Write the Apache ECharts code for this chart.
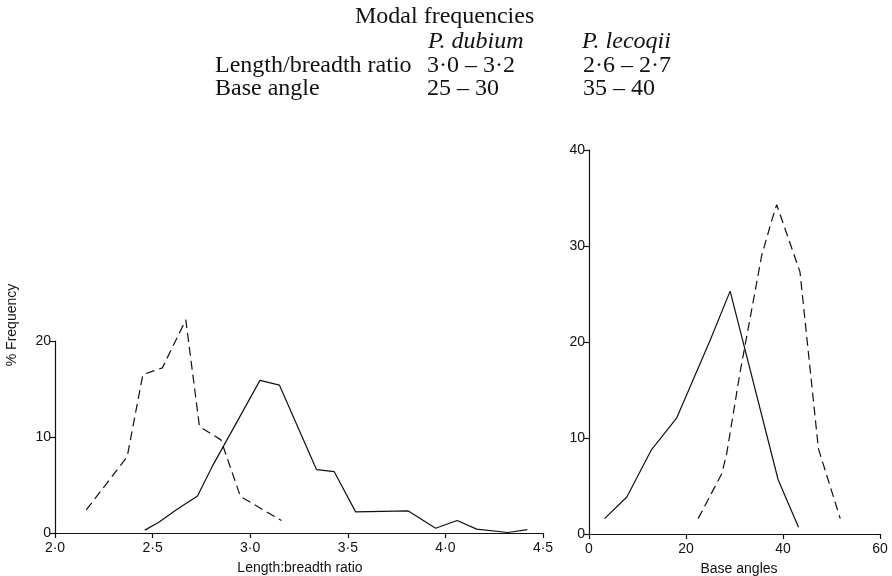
<!DOCTYPE html>
<html>
<head>
<meta charset="utf-8">
<script src="https://cdn.jsdelivr.net/npm/echarts@6/dist/echarts.min.js"></script>
<style>
  html, body { margin: 0; padding: 0; background: #fff; }
  #chart { width: 892px; height: 576px; }
</style>
</head>
<body>
<div id="chart"></div>
<script>
// length/breadth ratio — % frequency
const ratioDubium = [2.46, 2.53, 2.62, 2.73, 2.81, 3.05, 3.15, 3.34, 3.43, 3.54, 3.81, 3.95, 4.06, 4.16, 4.32, 4.42];
const freqRatioDubium = [0.3, 1.1, 2.4, 3.85, 7.1, 15.9, 15.4, 6.6, 6.4, 2.2, 2.3, 0.5, 1.3, 0.4, 0.05, 0.35];
const ratioLecoqii = [2.16, 2.37, 2.45, 2.55, 2.67, 2.74, 2.85, 2.95, 3.16];
const freqRatioLecoqii = [2.4, 7.95, 16.5, 17.2, 22.2, 11.1, 9.7, 3.8, 1.3];

// base angles — % frequency
const angleDubium = [3.2, 7.8, 12.9, 18.1, 25, 29.1, 39.0, 43.2];
const freqAngleDubium = [1.6, 3.85, 8.8, 12.1, 20.2, 25.3, 5.65, 0.7];
const angleLecoqii = [22.5, 27.4, 28.4, 31.1, 35.6, 37.7, 38.7, 43.5, 47.3, 51.8];
const freqAngleLecoqii = [1.6, 6.3, 8.4, 16.7, 29.0, 32.7, 34.3, 27.3, 8.9, 1.6];

const pairs = (xs, ys) => xs.map((x, i) => [x, ys[i]]);
const dotted = v => v.toFixed(1).replace('.', '·');

const ink = '#111';
const sans = 'Liberation Sans, Arial, sans-serif';
const serif = 'Liberation Serif, Times New Roman, serif';
const axisFont = { color: ink, fontFamily: sans, fontSize: 14 };

const baseAxis = {
  axisLine: { show: true, onZero: false, lineStyle: { color: ink, width: 1.2 } },
  axisTick: { show: true, length: 5, lineStyle: { color: ink, width: 1.2 } },
  splitLine: { show: false },
  axisLabel: Object.assign({ margin: 8 }, axisFont)
};

const myChart = echarts.init(document.getElementById('chart'), null, { renderer: 'canvas' });

const option = {
  backgroundColor: '#fff',
  animation: false,
  grid: [
    { left: 55, right: 349, top: 341, bottom: 43 },
    { left: 589, right: 12, top: 150, bottom: 42 }
  ],
  xAxis: [
    Object.assign({}, baseAxis, {
      gridIndex: 0, type: 'value', min: 2.0, max: 4.5, interval: 0.5,
      axisLabel: Object.assign({}, baseAxis.axisLabel, { formatter: dotted })
    }),
    Object.assign({}, baseAxis, {
      gridIndex: 1, type: 'value', min: 0, max: 60, interval: 20
    })
  ],
  yAxis: [
    Object.assign({}, baseAxis, {
      gridIndex: 0, type: 'value', min: 0, max: 20, interval: 10,
      axisLabel: Object.assign({}, baseAxis.axisLabel, { margin: 4 })
    }),
    Object.assign({}, baseAxis, {
      gridIndex: 1, type: 'value', min: 0, max: 40, interval: 10,
      axisLabel: Object.assign({}, baseAxis.axisLabel, { margin: 4 })
    })
  ],
  series: [
    {
      name: 'P. dubium', type: 'line', xAxisIndex: 0, yAxisIndex: 0,
      data: pairs(ratioDubium, freqRatioDubium), showSymbol: false, clip: false,
      lineStyle: { color: ink, width: 1.2 }
    },
    {
      name: 'P. lecoqii', type: 'line', xAxisIndex: 0, yAxisIndex: 0,
      data: pairs(ratioLecoqii, freqRatioLecoqii), showSymbol: false, clip: false,
      lineStyle: { color: ink, width: 1.2, type: [9, 5] }
    },
    {
      name: 'P. dubium', type: 'line', xAxisIndex: 1, yAxisIndex: 1,
      data: pairs(angleDubium, freqAngleDubium), showSymbol: false, clip: false,
      lineStyle: { color: ink, width: 1.2 }
    },
    {
      name: 'P. lecoqii', type: 'line', xAxisIndex: 1, yAxisIndex: 1,
      data: pairs(angleLecoqii, freqAngleLecoqii), showSymbol: false, clip: false,
      lineStyle: { color: ink, width: 1.2, type: [9, 5] }
    }
  ],
  graphic: [
    // header table
    { type: 'text', left: 355, top: 5, style: { text: 'Modal frequencies', font: '24px ' + serif, fill: ink } },
    { type: 'text', left: 428, top: 30, style: { text: 'P. dubium', font: 'italic 24px ' + serif, fill: ink } },
    { type: 'text', left: 582, top: 30, style: { text: 'P. lecoqii', font: 'italic 24px ' + serif, fill: ink } },
    { type: 'text', left: 215, top: 54, style: { text: 'Length/breadth ratio', font: '24px ' + serif, fill: ink } },
    { type: 'text', left: 427, top: 54, style: { text: '3·0 – 3·2', font: '24px ' + serif, fill: ink } },
    { type: 'text', left: 583, top: 54, style: { text: '2·6 – 2·7', font: '24px ' + serif, fill: ink } },
    { type: 'text', left: 215, top: 77, style: { text: 'Base angle', font: '24px ' + serif, fill: ink } },
    { type: 'text', left: 427, top: 77, style: { text: '25 – 30', font: '24px ' + serif, fill: ink } },
    { type: 'text', left: 583, top: 77, style: { text: '35 – 40', font: '24px ' + serif, fill: ink } },
    // axis titles
    {
      type: 'text', x: 12, y: 325, rotation: Math.PI / 2,
      style: { text: '% Frequency', font: '14px ' + sans, fill: ink, align: 'center', verticalAlign: 'middle' }
    },
    {
      type: 'text', x: 300, y: 568,
      style: { text: 'Length:breadth ratio', font: '14px ' + sans, fill: ink, align: 'center', verticalAlign: 'middle' }
    },
    {
      type: 'text', x: 739, y: 569,
      style: { text: 'Base angles', font: '14px ' + sans, fill: ink, align: 'center', verticalAlign: 'middle' }
    }
  ]
};

myChart.setOption(option);
</script>
</body>
</html>
